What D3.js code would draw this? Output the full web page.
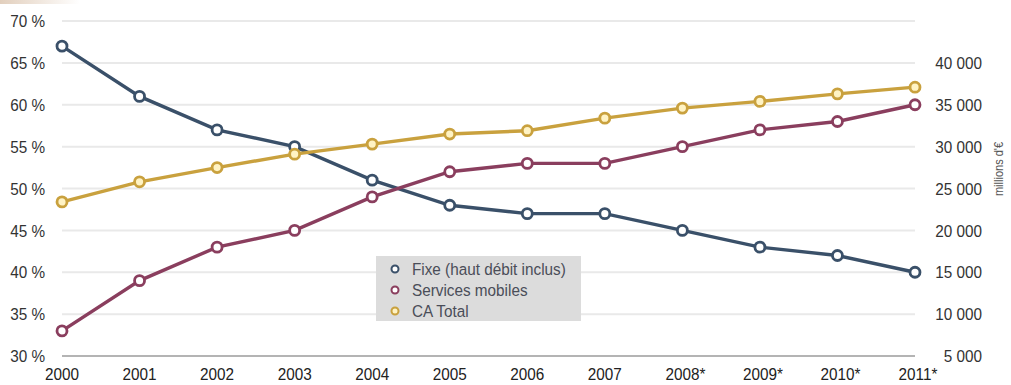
<!DOCTYPE html>
<html>
<head>
<meta charset="utf-8">
<script src="https://cdn.jsdelivr.net/npm/d3@7"></script>
<style>
  body { margin: 0; background: #fff; }
  text { font-family: "Liberation Sans", Arial, sans-serif; }
</style>
</head>
<body>
<svg id="chart" width="1011" height="385"></svg>
<script>
// data
var years = ["2000", "2001", "2002", "2003", "2004", "2005", "2006", "2007", "2008*", "2009*", "2010*", "2011*"];
var fixe = [67, 61, 57, 55, 51, 48, 47, 47, 45, 43, 42, 40];          // % (left axis)
var mobiles = [33, 39, 43, 45, 49, 52, 53, 53, 55, 57, 58, 60];       // % (left axis)
var caTotal = [23400, 25800, 27500, 29100, 30300, 31500, 31900, 33400, 34600, 35400, 36300, 37100]; // M€ (right axis)
var leftTicks = [30, 35, 40, 45, 50, 55, 60, 65, 70];
var rightTicks = [5000, 10000, 15000, 20000, 25000, 30000, 35000, 40000];
var legendLabels = ["Fixe (haut débit inclus)", "Services mobiles", "CA Total"];

var svg = d3.select("#chart"),
    margin = {top: 21, right: 96, bottom: 29, left: 62},
    width = 1011 - margin.left - margin.right,
    height = 385 - margin.top - margin.bottom,
    g = svg.append("g").attr("transform", "translate(" + margin.left + "," + margin.top + ")");

// the original uses a narrow font, fake it by squeezing
var squeeze = 0.9;
function narrow(x, y) { return "translate(" + x + "," + y + ") scale(" + squeeze + ",1)"; }

// small beige smear in the corner of the scan
var grad = svg.append("defs").append("linearGradient").attr("id", "corner");
grad.append("stop").attr("offset", "0%").attr("stop-color", "#e2cfbd");
grad.append("stop").attr("offset", "100%").attr("stop-color", "#fff");
svg.append("rect").attr("x", 0).attr("y", 0).attr("width", 80).attr("height", 4).attr("fill", "url(#corner)");

var x = d3.scalePoint().domain(years).range([0, width]);
var yL = d3.scaleLinear().domain([30, 70]).range([height, 0]);
var yR = d3.scaleLinear().domain([5000, 45000]).range([height, 0]);

var colors = ["#3a5069", "#8a3e5e", "#c9a13e"];
var fills = ["#ffffff", "#ffffff", "#fff3c4"];

// gridlines
g.append("g")
  .selectAll("line")
  .data(leftTicks)
  .enter().append("line")
    .attr("x1", 0)
    .attr("x2", width)
    .attr("y1", function(d) { return yL(d); })
    .attr("y2", function(d) { return yL(d); })
    .attr("stroke", function(d) { return d === 30 ? "#b4b4b4" : "#e9e9e9"; })
    .attr("stroke-width", 2);

// left axis labels
g.append("g")
  .selectAll("text")
  .data(leftTicks)
  .enter().append("text")
    .attr("transform", function(d) { return narrow(-17, yL(d)); })
    .attr("dy", "0.36em")
    .attr("text-anchor", "end")
    .attr("font-size", 17)
    .attr("fill", "#333")
    .text(function(d) { return d + " %"; });

// right axis labels
g.append("g")
  .selectAll("text")
  .data(rightTicks)
  .enter().append("text")
    .attr("transform", function(d) { return narrow(width + 67, yR(d)); })
    .attr("dy", "0.36em")
    .attr("text-anchor", "end")
    .attr("font-size", 17)
    .attr("fill", "#333")
    .text(function(d) { return d3.format(",")(d).replace(",", " "); });

svg.append("text")
    .attr("transform", "translate(1003,169) rotate(-90) scale(0.85,1)")
    .attr("text-anchor", "middle")
    .attr("font-size", 13)
    .attr("fill", "#555")
    .text("millions d'€");

// x axis labels
g.append("g")
  .selectAll("text")
  .data(years)
  .enter().append("text")
    .attr("transform", function(d) { return narrow(x(d) + (d.indexOf("*") > 0 ? 3 : 0), height + 24); })
    .attr("text-anchor", "middle")
    .attr("font-size", 17)
    .attr("fill", "#222")
    .text(function(d) { return d; });

var series = [
  {vals: fixe, y: yL},
  {vals: mobiles, y: yL},
  {vals: caTotal, y: yR}
];

series.forEach(function(s, i) {
  var pts = s.vals.map(function(v, j) { return [x(years[j]), s.y(v)]; });
  g.append("path")
    .datum(pts)
    .attr("fill", "none")
    .attr("stroke", colors[i])
    .attr("stroke-width", 3.4)
    .attr("d", d3.line());
  g.append("g")
    .selectAll("circle")
    .data(pts)
    .enter().append("circle")
      .attr("cx", function(d) { return d[0]; })
      .attr("cy", function(d) { return d[1]; })
      .attr("r", 5)
      .attr("fill", fills[i])
      .attr("stroke", colors[i])
      .attr("stroke-width", 2.8);
});

// legend
var legend = svg.append("g").attr("transform", "translate(376,256)");
legend.append("rect")
    .attr("width", 205)
    .attr("height", 65)
    .attr("fill", "#dcdcdc");

var item = legend.selectAll("g.item")
  .data(legendLabels)
  .enter().append("g")
    .attr("class", "item")
    .attr("transform", function(d, i) { return "translate(0," + (13 + i * 21) + ")"; });

item.append("circle")
    .attr("cx", 19)
    .attr("r", 3.5)
    .attr("fill", function(d, i) { return fills[i]; })
    .attr("stroke", function(d, i) { return colors[i]; })
    .attr("stroke-width", 2);

item.append("text")
    .attr("transform", narrow(36, 0))
    .attr("dy", "0.36em")
    .attr("font-size", 17)
    .attr("fill", "#4a4d58")
    .text(function(d) { return d; });
</script>
</body>
</html>
